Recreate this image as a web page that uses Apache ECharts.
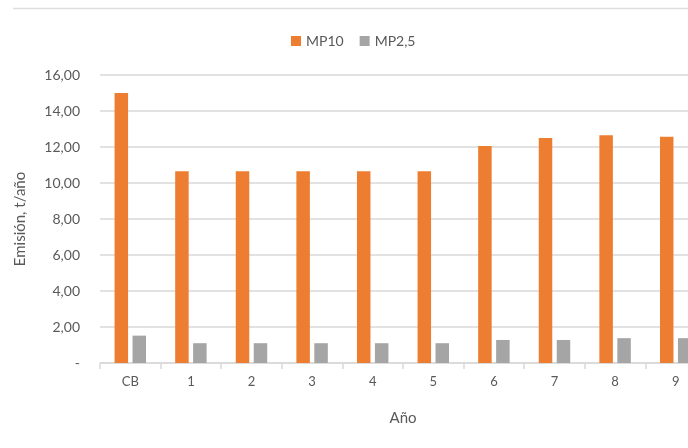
<!DOCTYPE html>
<html>
<head>
<meta charset="utf-8">
<script src="https://cdn.jsdelivr.net/npm/echarts@6/dist/echarts.min.js"></script>
<style>
html,body{margin:0;padding:0;background:#fff;overflow:hidden;width:688px;height:448px;}
#main{width:706px;height:448px;}
</style>
</head>
<body>
<div id="main"></div>
<script>
const categories = ['CB','1','2','3','4','5','6','7','8','9'];
const mp10 = [15.00, 10.65, 10.65, 10.65, 10.65, 10.65, 12.05, 12.50, 12.65, 12.57];
const mp25 = [1.52, 1.10, 1.10, 1.10, 1.10, 1.10, 1.28, 1.28, 1.38, 1.38];
const yTicks = [0, 2, 4, 6, 8, 10, 12, 14, 16];

const FONT = 'Lato, "Open Sans", sans-serif';
const TXT = '#595959';
const chart = echarts.init(document.getElementById('main'), null, {renderer:'canvas'});
chart.setOption({
  animation:false,
  backgroundColor:'#fff',
  graphic:[{type:'line', shape:{x1:13,y1:8.5,x2:706,y2:8.5}, style:{stroke:'#dedede', lineWidth:1.5}}],
  legend:{
    top:29, left:286,
    itemWidth:10, itemHeight:10, itemGap:16,
    icon:'rect',
    textStyle:{color:TXT, fontSize:14, fontFamily:FONT},
    data:['MP10','MP2,5']
  },
  grid:{left:100, right:0, top:75, bottom:85, containLabel:false},
  xAxis:{
    type:'category', data:categories,
    name:'Año', nameLocation:'middle', nameGap:48,
    nameTextStyle:{color:TXT, fontSize:15, fontFamily:FONT},
    axisLine:{lineStyle:{color:'#d9d9d9', width:1.5}},
    axisTick:{show:true, length:6, lineStyle:{color:'#d9d9d9', width:1.5}},
    axisLabel:{color:TXT, fontSize:13, fontFamily:FONT, margin:12}
  },
  yAxis:{
    type:'value', min:0, max:16, interval:2,
    name:'Emisión, t/año', nameLocation:'middle', nameGap:72, nameRotate:90,
    nameTextStyle:{color:TXT, fontSize:15, fontFamily:FONT},
    axisLine:{show:false}, axisTick:{show:false},
    splitLine:{lineStyle:{color:'#d9d9d9', width:1.5}},
    axisLabel:{color:TXT, fontSize:14, fontFamily:FONT, margin:20,
      formatter:function(v){ return v===0 ? '-' : v.toFixed(2).replace('.',','); }}
  },
  series:[
    {name:'MP10', type:'bar', data:mp10, barWidth:13.5, barGap:'33%',
     itemStyle:{color:'#ed7d31'}},
    {name:'MP2,5', type:'bar', data:mp25, barWidth:13.5, barGap:'33%',
     itemStyle:{color:'#a5a5a5'}}
  ]
});
</script>
</body>
</html>
